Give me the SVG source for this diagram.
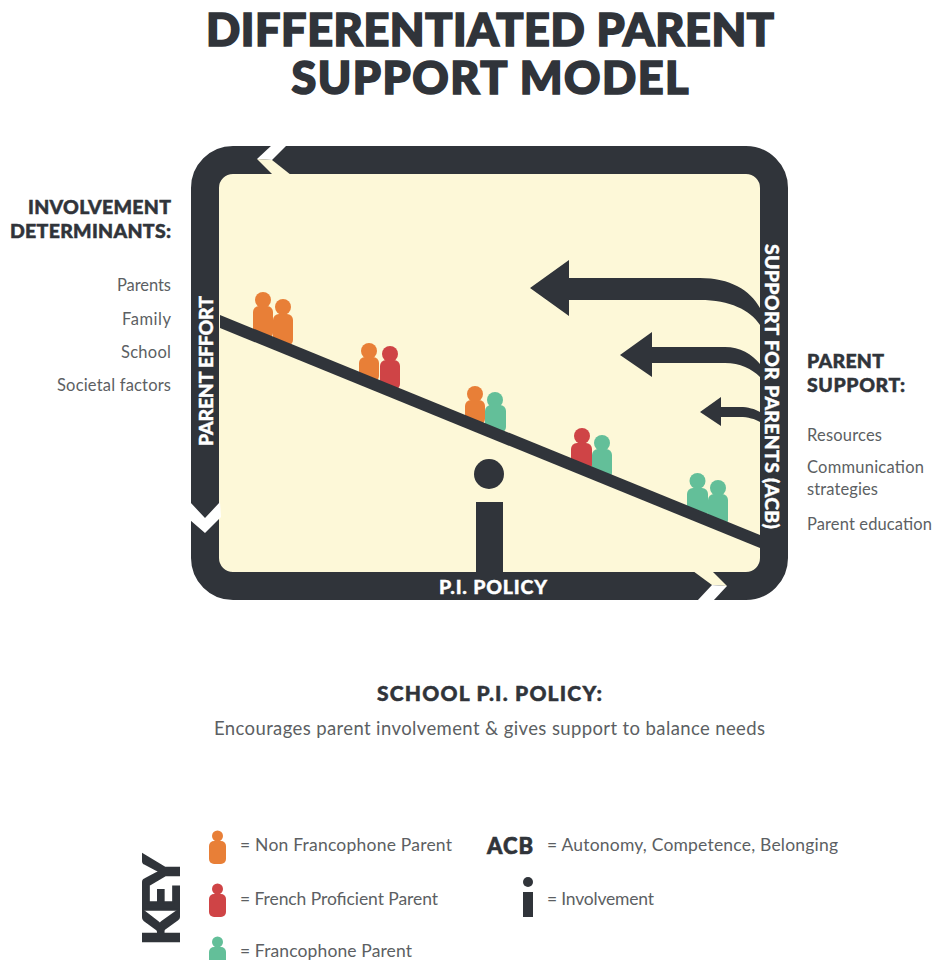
<svg xmlns="http://www.w3.org/2000/svg" width="933" height="960" viewBox="0 0 933 960">
<style>
text{font-family:"Lato","Liberation Sans",sans-serif}
.d{fill:#30343a}
.o{fill:#e87f37}.r{fill:#cf4446}.g{fill:#63bf99}
.title{font-size:45px;font-weight:900;fill:#30343a;stroke:#30343a;stroke-width:1.7px;text-anchor:middle}
.h{font-size:19.5px;font-weight:900;fill:#30343a;stroke:#30343a;stroke-width:.5px}
.b{font-size:16.5px;fill:#5c5f63}
.k{font-size:17.5px;fill:#5c5f63}
.w{font-size:19.5px;font-weight:900;fill:#fff;stroke:#fff;stroke-width:.4px;text-anchor:middle}
.end{text-anchor:end}
</style>
<rect width="933" height="960" fill="#fff"/>
<g id="title">
<text class="title" x="490" y="46" textLength="568">DIFFERENTIATED PARENT</text>
<text class="title" x="490" y="94" textLength="397">SUPPORT MODEL</text>
</g>
<g id="panel"><rect x="205" y="160" width="569" height="426" rx="28" fill="#fdf8d8"/></g>
<g id="people">
<g id="p1" class="o"><circle cx="263" cy="300" r="8"/><rect x="253" y="306" width="20" height="33" rx="6"/></g>
<g id="p2" class="o"><circle cx="283" cy="307" r="8"/><rect x="273" y="314" width="20" height="32" rx="6"/></g>
<g id="p3" class="o"><circle cx="369" cy="351" r="8"/><rect x="359" y="357" width="20" height="25" rx="6"/></g>
<g id="p4" class="r"><circle cx="390" cy="354" r="8"/><rect x="380" y="360" width="20" height="30" rx="6"/></g>
<g id="p5" class="o"><circle cx="475" cy="394" r="8"/><rect x="465" y="400" width="20" height="25" rx="6"/></g>
<g id="p6" class="g"><circle cx="495" cy="400" r="8"/><rect x="485" y="405" width="21" height="28" rx="6"/></g>
<g id="p7" class="r"><circle cx="582" cy="436" r="8"/><rect x="571" y="443" width="21" height="28" rx="6"/></g>
<g id="p8" class="g"><circle cx="602" cy="443" r="8"/><rect x="592" y="449" width="20" height="30" rx="6"/></g>
<g id="p9" class="g"><circle cx="697.500" cy="481" r="8"/><rect x="687" y="488" width="21" height="30" rx="6"/></g>
<g id="p10" class="g"><circle cx="718" cy="488" r="8"/><rect x="708" y="494" width="20" height="32" rx="6"/></g>
</g>
<g id="connectors">
<rect x="205" y="160" width="569" height="426" rx="28" fill="none" stroke="#30343a" stroke-width="28"/>
<polygon class="d" points="220,315 760,535 760,548 220,328"/>
<path class="d" d="M530 288L569 260V278H700C730 278 750 290 760 308V325C750 310 730 300 700 300H569V316Z"/>
<path class="d" d="M620 355L652 332V347H725C740 347 752 354 760 364V377C752 369 740 363 725 363H652V377Z"/>
<path class="d" d="M700 412L721 397V407H740C748 407 755 409 760 412V422C755 419 748 417 740 417H721V426Z"/>
<polygon fill="#fff" points="272,145 257,159 272,160 287,145"/>
<polygon fill="#fdf8d8" points="257,159 273,175 291,175 272,160"/>
<polygon fill="#fff" points="190,502 205,518 220,502 221,517 205,533 190,520"/>
<polygon fill="#fdf8d8" points="693,571 712,585 727,586 712,571"/>
<polygon fill="#fff" points="712,585 697,601 713,601 727,586"/>
</g>
<g id="pivot"><circle class="d" cx="489" cy="474" r="15"/><rect class="d" x="476" y="502" width="27" height="72"/></g>
<g id="frame-labels">
<text class="w" transform="translate(213 371) rotate(-90)" textLength="150">PARENT EFFORT</text>
<text class="w" transform="translate(765 386.500) rotate(90)" textLength="285">SUPPORT FOR PARENTS (ACB)</text>
<text class="w" x="493" y="594" textLength="108">P.I. POLICY</text>
</g>
<g id="determinants">
<text class="h end" x="171" y="214" textLength="143">INVOLVEMENT</text>
<text class="h end" x="171" y="238" textLength="161">DETERMINANTS:</text>
<text class="b end" x="171" y="291" textLength="54">Parents</text>
<text class="b end" x="171" y="325" textLength="49">Family</text>
<text class="b end" x="171" y="358" textLength="50">School</text>
<text class="b end" x="171" y="391" textLength="114">Societal factors</text>
</g>
<g id="parent-support">
<text class="h" x="807" y="368" textLength="77">PARENT</text>
<text class="h" x="807" y="392" textLength="98">SUPPORT:</text>
<text class="b" x="807" y="441" textLength="75">Resources</text>
<text class="b" x="807" y="473" textLength="117">Communication</text>
<text class="b" x="807" y="495" textLength="71">strategies</text>
<text class="b" x="807" y="530" textLength="125">Parent education</text>
</g>
<g id="policy">
<text class="h" x="377" y="701" style="font-size:21px" textLength="225">SCHOOL P.I. POLICY:</text>
<text class="k" x="214" y="735" style="font-size:18.500px" textLength="551">Encourages parent involvement &amp; gives support to balance needs</text>
</g>
<g id="key">
<text transform="translate(179 945) rotate(-90)" font-size="50" font-weight="900" fill="#30343a" stroke="#30343a" stroke-width="2" textLength="90">KEY</text>
<g id="key-non" class="o"><circle cx="217.500" cy="836" r="5.500"/><rect x="209" y="841" width="17" height="23" rx="5"/></g>
<text class="k" x="240" y="851" textLength="212">= Non Francophone Parent</text>
<g id="key-fp" class="r"><circle cx="217.500" cy="889" r="5.500"/><rect x="209" y="894" width="17" height="23" rx="5"/></g>
<text class="k" x="240" y="905" textLength="198">= French Proficient Parent</text>
<g id="key-f" class="g"><circle cx="217.500" cy="942" r="5.500"/><rect x="209" y="947" width="17" height="23" rx="5"/></g>
<text class="k" x="240" y="957" textLength="172">= Francophone Parent</text>
<text x="487" y="854" font-size="22" font-weight="900" fill="#30343a" stroke="#30343a" stroke-width=".6" textLength="46">ACB</text>
<text class="k" x="547" y="851" textLength="291">= Autonomy, Competence, Belonging</text>
<g id="key-i"><circle class="d" cx="528" cy="882" r="5"/><rect class="d" x="523" y="892" width="10" height="25"/></g>
<text class="k" x="547" y="905" textLength="107">= Involvement</text>
</g>
</svg>
